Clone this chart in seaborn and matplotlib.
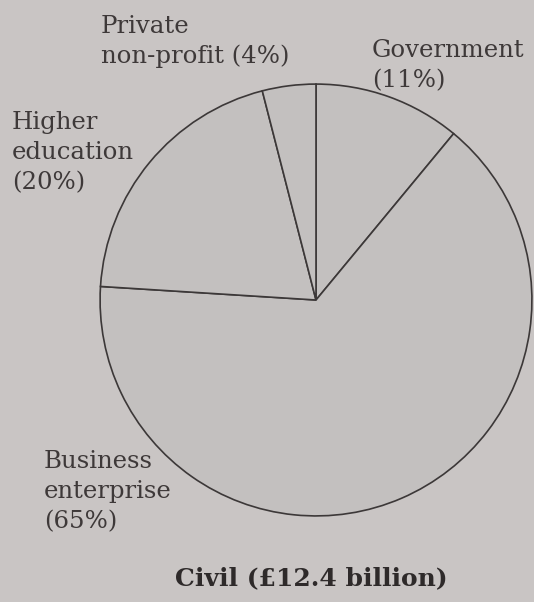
import matplotlib
matplotlib.use("Agg")
import matplotlib.pyplot as plt
import seaborn as sns

# Civil R&D funding shares by performing sector
sectors = ["Government", "Business enterprise", "Higher education", "Private non-profit"]
shares = [11, 65, 20, 4]
labels = ["Government\n(11%)", "Business\nenterprise\n(65%)", "Higher\neducation\n(20%)",
          "Private\nnon-profit (4%)"]
title = "Civil (£12.4 billion)"

sns.set_theme(style="white")
plt.rcParams["font.family"] = ["DejaVu Serif"]

W, H = 534, 602
paper = "#c9c5c4"
fig = plt.figure(figsize=(W / 100, H / 100), dpi=100, facecolor=paper)

# pie axes: centre (316, 300) px, radius 217 px
r = 217
cx, cy = 316, 300
ax = fig.add_axes([(cx - r) / W, (H - cy - r) / H, 2 * r / W, 2 * r / H])
ax.set_facecolor(paper)
wedges, _ = ax.pie(shares, startangle=90, counterclock=False,
                   colors=["#c3c0bf"] * len(shares),
                   wedgeprops=dict(edgecolor="#3c3838", linewidth=1.2))
ax.set_xlim(-1.005, 1.005)
ax.set_ylim(-1.005, 1.005)
ax.set_aspect("equal")
ax.axis("off")

# label anchors: left edge and first-line baseline, in pixels
pos = {
    "Government": (372, 57),
    "Business enterprise": (44, 468),
    "Higher education": (12, 129),
    "Private non-profit": (101, 33),
}
step = 30
for s, lab in zip(sectors, labels):
    x, y = pos[s]
    for i, line in enumerate(lab.split("\n")):
        fig.text(x / W, 1 - (y + i * step) / H, line, ha="left", va="baseline",
                 fontsize=17.6, color="#3e3939")

fig.text(311 / W, 1 - 578 / H, title, ha="center", va="center",
         fontsize=18, fontweight="bold", color="#2e2a2a")

fig.savefig("out.png", dpi=100, facecolor=paper)
